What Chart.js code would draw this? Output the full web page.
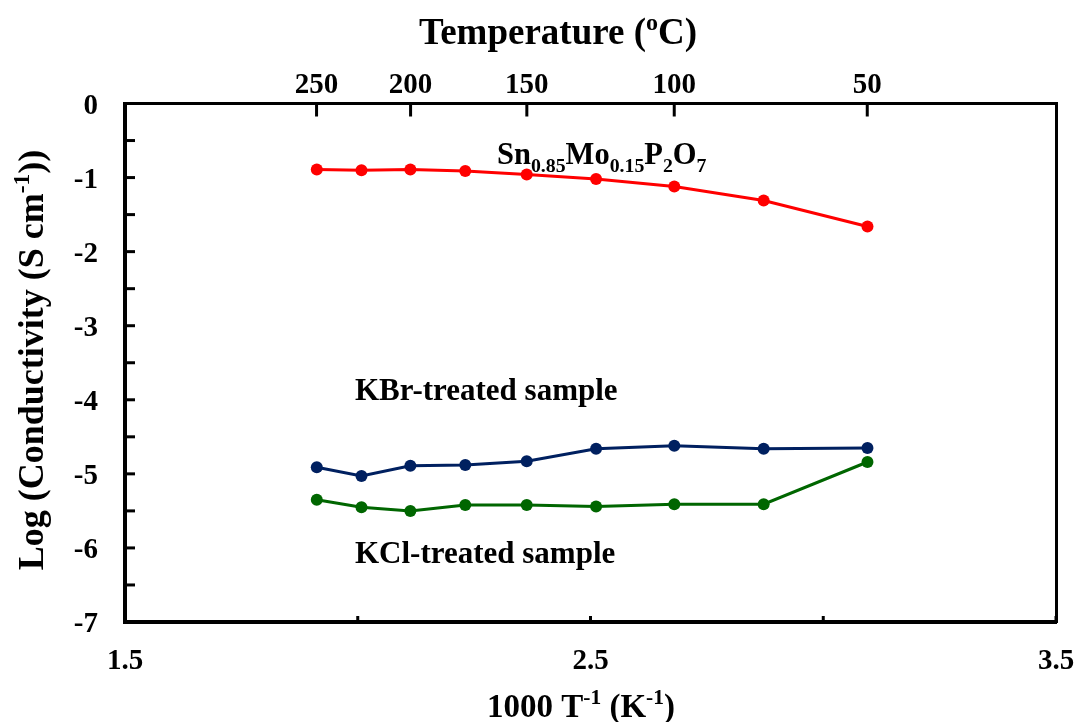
<!DOCTYPE html>
<html><head><meta charset="utf-8">
<script src="https://cdn.jsdelivr.net/npm/chart.js@4.4.1/dist/chart.umd.min.js"></script>
<style>html,body{margin:0;padding:0;background:#fff;} canvas{display:block;}</style>
</head><body>
<canvas id="c" width="1080" height="722"></canvas>
<script>
// ---- data ----
const invT = [1.912, 2.008, 2.113, 2.231, 2.363, 2.512, 2.680, 2.872, 3.095]; // 1000 T^-1 (K^-1)
const snMoP2O7 = [-0.89, -0.90, -0.89, -0.91, -0.96, -1.02, -1.12, -1.31, -1.66];
const kbrTreated = [-4.91, -5.03, -4.89, -4.88, -4.83, -4.66, -4.62, -4.66, -4.65];
const kclTreated = [-5.35, -5.45, -5.50, -5.42, -5.42, -5.44, -5.41, -5.41, -4.84];
const xTickValues = [1.5, 2.0, 2.5, 3.0, 3.5];
const xTickLabels = ['1.5', '', '2.5', '', '3.5'];
const yTickValues = [0, -0.5, -1, -1.5, -2, -2.5, -3, -3.5, -4, -4.5, -5, -5.5, -6, -6.5, -7];
const yTickLabels = ['0', '', '-1', '', '-2', '', '-3', '', '-4', '', '-5', '', '-6', '', '-7'];
const tempTicks = [250, 200, 150, 100, 50]; // °C on the top axis

const FONT = "'Liberation Serif','Times New Roman',serif";
const toInvT = T => 1000 / (T + 273.15);
const pts = arr => invT.map((x, i) => ({ x: x, y: arr[i] }));

function drawRich(ctx, segs, size, x, y, align) {
  const sub = size * 0.65;
  let w = 0;
  segs.forEach(s => {
    ctx.font = 'bold ' + (s.sub || s.sup ? sub : size) + 'px ' + FONT;
    s.w = ctx.measureText(s.t).width; w += s.w;
  });
  let cx = align === 'center' ? x - w / 2 : x;
  ctx.textBaseline = 'alphabetic'; ctx.textAlign = 'left'; ctx.fillStyle = '#000';
  segs.forEach(s => {
    ctx.font = 'bold ' + (s.sub || s.sup ? sub : size) + 'px ' + FONT;
    const dy = s.sub ? size * 0.25 : (s.sup ? -size * 0.38 : 0);
    ctx.fillText(s.t, cx, y + dy);
    cx += s.w;
  });
}

const decor = {
  id: 'decor',
  beforeDatasetsDraw(chart) {
    const c = chart.ctx, a = chart.chartArea;
    c.save(); c.strokeStyle = '#000'; c.lineWidth = 3;
    const ys = chart.scales.y;
    ys.ticks.forEach(t => {
      const p = ys.getPixelForValue(t.value);
      c.beginPath(); c.moveTo(a.left, p); c.lineTo(a.left + 10, p); c.stroke();
    });
    const xs = chart.scales.x;
    xs.ticks.forEach(t => {
      const p = xs.getPixelForValue(t.value);
      c.beginPath(); c.moveTo(p, a.bottom); c.lineTo(p, a.bottom - 6); c.stroke();
    });
    const x2 = chart.scales.x2;
    x2.ticks.forEach(t => {
      const p = x2.getPixelForValue(t.value);
      c.beginPath(); c.moveTo(p, a.top); c.lineTo(p, a.top + 13); c.stroke();
    });
    c.restore();
  },
  afterDraw(chart) {
    const c = chart.ctx;
    c.save();
    drawRich(c, [{ t: 'Temperature (' }, { t: 'o', sup: true }, { t: 'C)' }], 37, 558, 44, 'center');
    drawRich(c, [{ t: '1000 T' }, { t: '-1', sup: true }, { t: ' (K' }, { t: '-1', sup: true }, { t: ')' }], 33, 581, 717, 'center');
    c.save(); c.translate(43, 360); c.rotate(-Math.PI / 2);
    drawRich(c, [{ t: 'Log (Conductivity (S cm' }, { t: '-1', sup: true }, { t: '))' }], 36, 0, 0, 'center');
    c.restore();
    drawRich(c, [{ t: 'Sn' }, { t: '0.85', sub: true }, { t: 'Mo' }, { t: '0.15', sub: true }, { t: 'P' }, { t: '2', sub: true }, { t: 'O' }, { t: '7', sub: true }], 30.5, 497, 164, 'left');
    drawRich(c, [{ t: 'KBr-treated sample' }], 31, 355, 400, 'left');
    drawRich(c, [{ t: 'KCl-treated sample' }], 31, 355, 563, 'left');
    c.restore();
  }
};

const tickFont = { family: FONT, size: 29, weight: 'bold' };
const ds = (label, arr, color) => ({
  label: label, data: pts(arr), showLine: true, borderColor: color, backgroundColor: color,
  borderWidth: 3, pointRadius: 6, pointHoverRadius: 6, pointBorderWidth: 0, tension: 0
});
const noPad = s => { s.paddingLeft = 0; s.paddingRight = 0; };

new Chart(document.getElementById('c'), {
  type: 'scatter',
  data: { datasets: [
    ds('Sn0.85Mo0.15P2O7', snMoP2O7, '#FF0000'),
    ds('KBr-treated sample', kbrTreated, '#002060'),
    ds('KCl-treated sample', kclTreated, '#006600')
  ] },
  options: {
    responsive: false, animation: false, devicePixelRatio: 1,
    layout: { padding: { left: 0, right: 24, top: 0, bottom: 0 } },
    plugins: { legend: { display: false }, tooltip: { enabled: false } },
    scales: {
      x: {
        type: 'linear', position: 'bottom', min: 1.5, max: 3.5,
        afterBuildTicks: s => { s.ticks = xTickValues.map(v => ({ value: v })); },
        afterFit: s => { s.height = 100; noPad(s); },
        grid: { display: false, drawTicks: false },
        border: { display: true, width: 4, color: '#000' },
        ticks: { autoSkip: false, maxRotation: 0, padding: 22, color: '#000', font: tickFont,
                 callback: (v, i) => xTickLabels[i] }
      },
      x2: {
        type: 'linear', position: 'top', min: 1.5, max: 3.5,
        afterBuildTicks: s => { s.ticks = tempTicks.map(T => ({ value: toInvT(T) })); },
        afterFit: s => { s.height = 103.5; noPad(s); },
        grid: { display: false, drawTicks: false },
        border: { display: true, width: 3, color: '#000' },
        ticks: { autoSkip: false, maxRotation: 0, padding: 1, color: '#000', font: tickFont,
                 callback: (v, i) => String(tempTicks[i]) }
      },
      y: {
        type: 'linear', position: 'left', min: -7, max: 0,
        afterBuildTicks: s => { s.ticks = yTickValues.map(v => ({ value: v })); },
        afterFit: s => { s.width = 125; },
        grid: { display: false, drawTicks: false },
        border: { display: true, width: 4, color: '#000' },
        ticks: { autoSkip: false, padding: 27, labelOffset: 3, color: '#000', font: tickFont,
                 callback: (v, i) => yTickLabels[i] }
      },
      y2: {
        type: 'linear', position: 'right', min: -7, max: 0,
        afterFit: s => { s.width = 0; },
        grid: { display: false, drawTicks: false },
        border: { display: true, width: 3, color: '#000' },
        ticks: { display: false }
      }
    }
  },
  plugins: [decor]
});
</script>
</body></html>
